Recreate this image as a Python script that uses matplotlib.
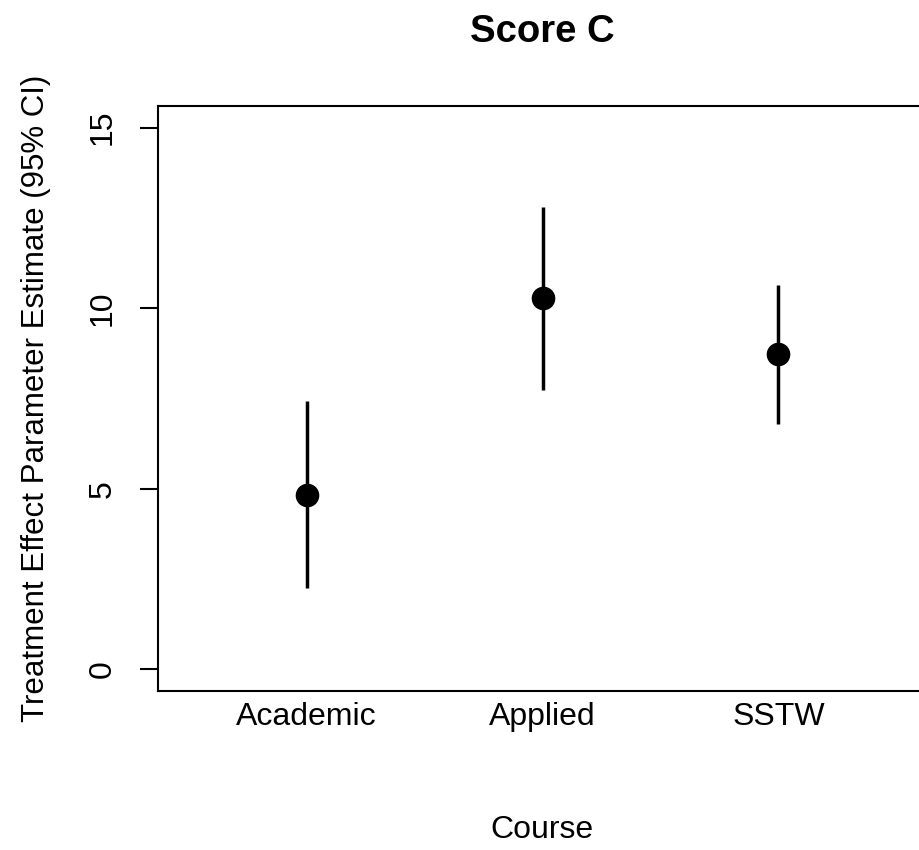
import matplotlib
matplotlib.use("Agg")
import matplotlib.pyplot as plt

courses = ["Academic", "Applied", "SSTW"]
estimate = [4.83, 10.27, 8.74]
ci_low = [2.25, 7.74, 6.80]
ci_high = [7.42, 12.81, 10.65]

plt.rcParams['font.family'] = ['Liberation Sans', 'DejaVu Sans']

fig = plt.figure(figsize=(9.19, 8.5), dpi=100)
W, H = 919, 850
ax = fig.add_axes([158 / W, 1 - 691 / H, (927 - 158) / W, (691 - 106) / H])

xs = list(range(1, len(courses) + 1))
ax.vlines(xs, ci_low, ci_high, color='black', linewidth=2.5, capstyle='butt')
ax.plot(xs, estimate, 'o', color='black', markersize=16)

ax.set_xlim(0.37, 3.63)
ax.set_ylim(-0.6, 15.6)
ax.set_xticks(xs)
ax.set_xticklabels(courses, fontsize=23)
ax.tick_params(axis='x', length=0, pad=8)
ax.set_yticks([0, 5, 10, 15])
ax.set_yticklabels(['0', '5', '10', '15'], fontsize=23, rotation=90, va='center')
ax.tick_params(axis='y', length=13, width=1.5, pad=16)
for s in ax.spines.values():
    s.set_linewidth(1.5)

ax.set_title('Score C', fontsize=27.5, fontweight='bold', pad=46)
fig.text(542 / W, 1 - 830 / H, 'Course', fontsize=23, ha='center', va='center')
fig.text(36 / W, 1 - 398 / H, 'Treatment Effect Parameter Estimate (95% CI)',
         fontsize=22.5, rotation=90, ha='center', va='center')

fig.savefig('out.png', dpi=100)
